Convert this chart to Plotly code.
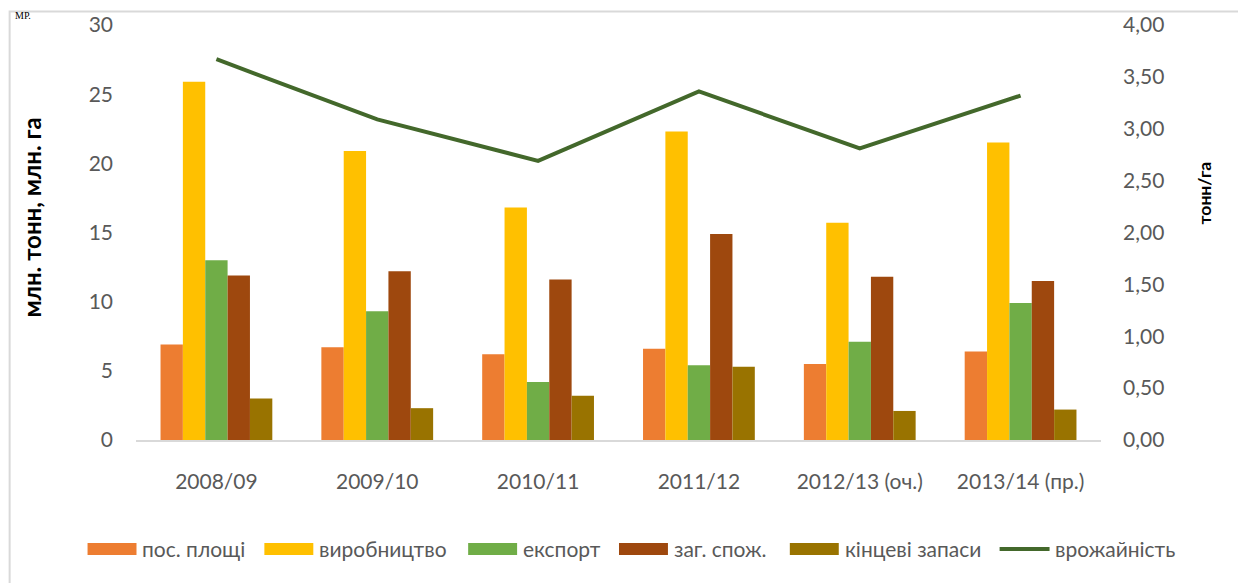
import plotly.graph_objects as go
from plotly.subplots import make_subplots

categories = ["2008/09", "2009/10", "2010/11", "2011/12", "2012/13 (оч.)", "2013/14 (пр.)"]
area = [6.9, 6.7, 6.2, 6.6, 5.5, 6.4]
production = [25.9, 20.9, 16.8, 22.3, 15.7, 21.5]
export = [13.0, 9.3, 4.2, 5.4, 7.1, 9.9]
consumption = [11.9, 12.2, 11.6, 14.9, 11.8, 11.5]
stocks = [3.0, 2.3, 3.2, 5.3, 2.1, 2.2]
yield_t = [3.67, 3.09, 2.69, 3.36, 2.81, 3.32]

bar_names = ["пос. площі", "виробництво", "експорт", "заг. спож.", "кінцеві запаси"]
bar_values = [area, production, export, consumption, stocks]
bar_colors = ["#ED7D31", "#FFC000", "#70AD47", "#9E480E", "#997300"]
line_name = "врожайність"
line_color = "#43682B"

# page is offset by the 8px default body margin
OFF = 8
W, H = 1246 - OFF, 583 - OFF
L, R, T, B = 135.5, 1101.5, 25, 440      # plot area in page pixels
FONT = "Lato"
GREY = "#595959"


def px(x):
    return (x - L) / (R - L)


def py(y):
    return (B - y) / (B - T)


fig = make_subplots(specs=[[{"secondary_y": True}]])
for name, vals, col in zip(bar_names, bar_values, bar_colors):
    fig.add_trace(go.Bar(x=categories, y=vals, name=name, marker_color=col,
                         marker_line_width=0, showlegend=False), secondary_y=False)
fig.add_trace(go.Scatter(x=categories, y=yield_t, name=line_name, mode="lines",
                         line=dict(color=line_color, width=4), showlegend=False),
              secondary_y=True)

fig.update_layout(
    width=W, height=H,
    margin=dict(l=L - OFF, r=W - (R - OFF), t=T - OFF, b=H - (B - OFF), pad=0,
                autoexpand=False),
    paper_bgcolor="white", plot_bgcolor="white",
    barmode="group", bargap=0.305, bargroupgap=0,
    separators=", ",
    font=dict(family=FONT, size=21, color=GREY),
    showlegend=False,
)
fig.update_xaxes(domain=[0, 1], showgrid=False, showline=True, linecolor="#D9D9D9",
                 linewidth=1.5, ticks="", ticklabelstandoff=22, automargin=False,
                 tickfont=dict(size=21, color=GREY))
fig.update_yaxes(range=[0, 30], dtick=5, showgrid=False, zeroline=False, showline=False,
                 ticklabelstandoff=22, automargin=False,
                 tickfont=dict(size=21, color=GREY), secondary_y=False)
fig.update_yaxes(range=[0, 4], dtick=0.5, tickformat=".2f", showgrid=False, zeroline=False,
                 showline=False, ticklabelstandoff=21, automargin=False,
                 tickfont=dict(size=21, color=GREY), secondary_y=True)

shapes = []
annotations = []
# outer frame
shapes.append(dict(type="rect", xref="paper", yref="paper", x0=px(9), x1=px(1240),
                   y0=py(600), y1=py(11.5), line=dict(color="#D9D9D9", width=2),
                   fillcolor="rgba(0,0,0,0)", layer="below"))
# axis titles
annotations.append(dict(text="<b>млн. тонн, млн. га</b>", xref="paper", yref="paper",
                        x=px(30), y=py(218), xanchor="center", yanchor="middle",
                        textangle=-90, showarrow=False,
                        font=dict(family=FONT, size=24, color="#000000")))
annotations.append(dict(text="<b>тонн/га</b>", xref="paper", yref="paper",
                        x=px(1206), y=py(193), xanchor="center", yanchor="middle",
                        textangle=-90, showarrow=False,
                        font=dict(family=FONT, size=17.5, color="#000000")))
# text above the chart (mostly outside the frame in the source)
annotations.append(dict(text="МР.", xref="paper", yref="paper", x=px(12), y=py(8),
                        xanchor="left", yanchor="top", showarrow=False,
                        font=dict(family="Liberation Serif", size=10, color="#000000")))

# legend (custom, bottom)
leg_y = 549
swatch_left = [87, 264, 468, 619, 790]
for name, col, x0 in zip(bar_names, bar_colors, swatch_left):
    shapes.append(dict(type="rect", xref="paper", yref="paper", x0=px(x0), x1=px(x0 + 49),
                       y0=py(leg_y + 6), y1=py(leg_y - 6), fillcolor=col, line=dict(width=0)))
    annotations.append(dict(text=name, xref="paper", yref="paper", x=px(x0 + 53), y=py(leg_y - 1),
                            xanchor="left", yanchor="middle", showarrow=False,
                            font=dict(family=FONT, size=21, color=GREY)))
lx = 1000
shapes.append(dict(type="line", xref="paper", yref="paper", x0=px(lx), x1=px(lx + 50),
                   y0=py(leg_y), y1=py(leg_y), line=dict(color=line_color, width=4)))
annotations.append(dict(text=line_name, xref="paper", yref="paper", x=px(lx + 53), y=py(leg_y - 1),
                        xanchor="left", yanchor="middle", showarrow=False,
                        font=dict(family=FONT, size=21, color=GREY)))

fig.update_layout(shapes=shapes, annotations=annotations)
fig.write_html("out.html")
